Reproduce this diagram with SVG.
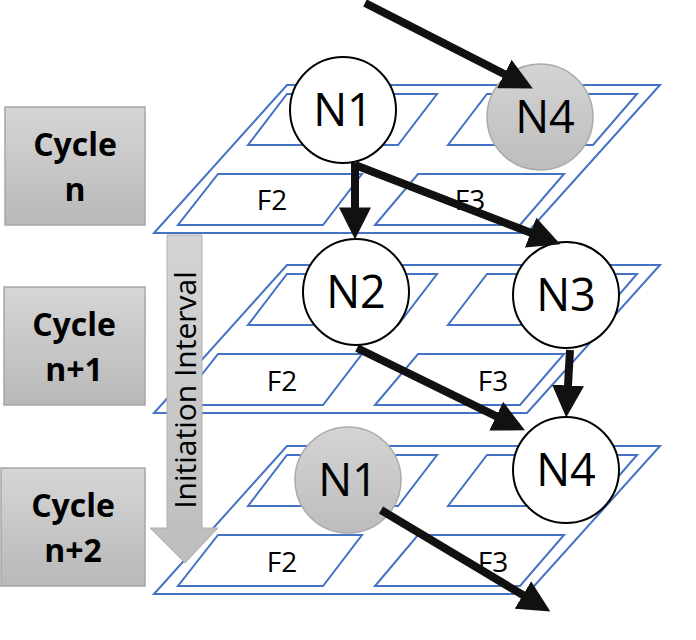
<svg xmlns="http://www.w3.org/2000/svg" width="696" height="640" viewBox="0 0 696 640">
<defs>
<linearGradient id="gb" x1="0" y1="0" x2="0" y2="1"><stop offset="0" stop-color="#d6d6d6"/><stop offset="1" stop-color="#b8b8b8"/></linearGradient>
<linearGradient id="gc" x1="0" y1="0" x2="0" y2="1"><stop offset="0" stop-color="#d4d4d4"/><stop offset="1" stop-color="#bdbdbd"/></linearGradient>
<marker id="ah" markerWidth="4" markerHeight="4" refX="2.2" refY="2" orient="auto" markerUnits="strokeWidth"><path d="M0,0 L4,2 L0,4 z" fill="#111"/></marker>
<g id="layer">
<polygon points="287,85 660,85 527,233 154,233" fill="none" stroke="#4472c4" stroke-width="2"/>
<polygon points="287,94 437,94 398,145 248,145" fill="#fff" stroke="#4472c4" stroke-width="2"/>
<polygon points="487,94 637,94 593,145 448,145" fill="#fff" stroke="#4472c4" stroke-width="2"/>
<polygon points="218,174 362,174 323,225 178,225" fill="#fff" stroke="#4472c4" stroke-width="2"/>
<polygon points="418,174 564,174 520,225 375,225" fill="#fff" stroke="#4472c4" stroke-width="2"/>
</g>
</defs>
<style>
.lbl{font-family:"Open Sans","Liberation Sans",sans-serif;font-size:28px;fill:#000;text-anchor:middle}
.nd{font-family:"Open Sans","Liberation Sans",sans-serif;font-size:45px;fill:#000;text-anchor:middle}
.cy{font-family:"Open Sans","Liberation Sans",sans-serif;font-size:32px;font-weight:bold;fill:#000;text-anchor:middle}
.w{fill:#fff;stroke:#000;stroke-width:2}
.g{fill:url(#gc);stroke:#aaa;stroke-width:1.5}
.box{fill:url(#gb);stroke:#a6a6a6;stroke-width:1.5}
.e{stroke:#111;stroke-width:8;fill:none;marker-end:url(#ah)}
</style>
<g id="cycles">
<g id="cycle-n"><rect class="box" x="5" y="107" width="140" height="118"/><text class="cy" x="75" y="156">Cycle</text><text class="cy" x="75" y="201">n</text></g>
<g id="cycle-n1"><rect class="box" x="4" y="287" width="141" height="118"/><text class="cy" x="74" y="336">Cycle</text><text class="cy" x="74" y="381">n+1</text></g>
<g id="cycle-n2"><rect class="box" x="1" y="468" width="144" height="118"/><text class="cy" x="73" y="517">Cycle</text><text class="cy" x="73" y="562">n+2</text></g>
</g>
<g id="layers">
<use href="#layer"/>
<use href="#layer" y="180"/>
<use href="#layer" y="361"/>
<text class="lbl" x="272" y="210">F2</text><text class="lbl" x="470" y="210">F3</text>
<text class="lbl" x="282" y="391">F2</text><text class="lbl" x="493" y="391">F3</text>
<text class="lbl" x="282" y="572">F2</text><text class="lbl" x="493" y="572">F3</text>
</g>
<g id="ii">
<polygon points="167,235 202,235 202,528 218,528 185,563 150,528 167,528" fill="url(#gc)" stroke="#b0b0b0" stroke-width="1"/>
<text transform="translate(196,390) rotate(-90)" font-family="'Open Sans','Liberation Sans',sans-serif" font-size="30" text-anchor="middle">Initiation Interval</text>
</g>
<g id="n1a"><circle class="w" cx="343" cy="110" r="53"/><text class="nd" x="343" y="126">N1</text></g>
<g id="n4a"><circle class="g" cx="540" cy="117" r="53"/><text class="nd" x="545" y="133">N4</text></g>
<g id="n2"><circle class="w" cx="356" cy="292" r="53"/><text class="nd" x="356" y="308">N2</text></g>
<g id="n3"><circle class="w" cx="566" cy="295" r="53"/><text class="nd" x="566" y="311">N3</text></g>
<g id="n4b"><circle class="w" cx="566" cy="470" r="53"/><text class="nd" x="566" y="486">N4</text></g>
<g id="n1b"><circle class="g" cx="348" cy="480" r="53"/><text class="nd" x="348" y="496">N1</text></g>
<g id="connectors">
<line class="e" x1="365" y1="3" x2="520" y2="82"/>
<line class="e" x1="355" y1="163" x2="355" y2="225"/>
<line class="e" x1="355" y1="165" x2="547" y2="239"/>
<line class="e" x1="357" y1="348" x2="512" y2="424"/>
<line class="e" x1="570" y1="350" x2="567" y2="403"/>
<line class="e" x1="381" y1="510" x2="538" y2="604"/>
</g>
</svg>
